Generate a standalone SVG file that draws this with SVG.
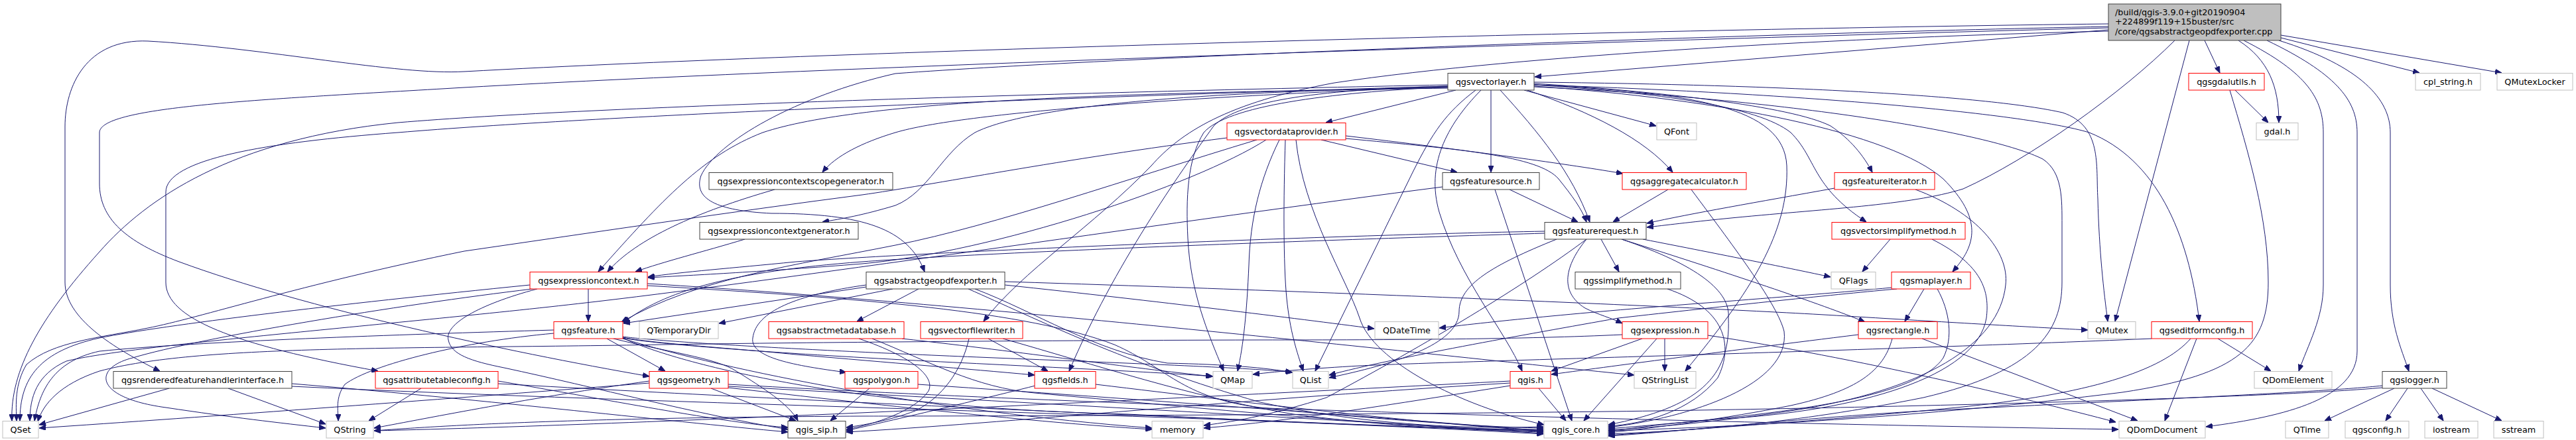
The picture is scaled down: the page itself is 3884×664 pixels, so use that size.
<svg xmlns="http://www.w3.org/2000/svg" width="3884" height="664" viewBox="0 0 3884 664">
<defs>
<marker id="ah" markerWidth="10" markerHeight="8" refX="10" refY="4" orient="auto" markerUnits="userSpaceOnUse"><path d="M0,0 L10,4 L0,8 z" fill="#191970" stroke="#191970" stroke-width="1"/></marker>
<style>
.e path{fill:none;stroke:#191970;stroke-width:1;marker-end:url(#ah)}
.nb{fill:#ffffff;stroke:#404040;stroke-width:1}
.nr{fill:#ffffff;stroke:#ff0000;stroke-width:1}
.ng{fill:#ffffff;stroke:#bfbfbf;stroke-width:1}
.nt{fill:#bfbfbf;stroke:#404040;stroke-width:1}
text{font-family:"DejaVu Sans","Liberation Sans",sans-serif;font-size:12.8px;fill:#000000;text-anchor:middle}
text.l{text-anchor:start}
</style>
</defs>
<rect x="0" y="0" width="3884" height="664" fill="#ffffff"/>
<g id="connectors" class="e">
<path d="M3179,45 L2314,116"/>
<path d="M3179,36 C2500,44 1300,75 700,108 C600,114 400,72 223,62 C130,58 98,130 98,191 L98,426 C98,480 170,525 241,560"/>
<path d="M3179,40 C2600,52 1700,85 1350,111 C1200,145 1080,215 1057,265 C1045,300 1080,318 1163,322 C1300,322 1370,345 1394,410"/>
<path d="M3179,42 C2500,60 1300,98 700,132 C400,150 150,160 150,200 L150,277 C150,330 190,365 270,395 C460,465 760,530 979,568"/>
<path d="M3179,47 C2800,56 2300,82 2012,125 C1850,155 1780,200 1736,250 C1650,340 1540,410 1483,485"/>
<path d="M3279,61 C3200,140 3060,240 2960,285 C2880,310 2750,315 2600,330 C2550,335 2510,340 2483,343"/>
<path d="M3301,61 L3189,485"/>
<path d="M3324,61 L3347,110"/>
<path d="M3375,61 C3420,90 3436,130 3436,185"/>
<path d="M3383,61 C3480,110 3503,150 3503,200 L3503,430 C3503,480 3480,520 3466,560"/>
<path d="M3418,61 C3520,110 3554,150 3554,200 L3554,530 C3554,600 3450,628 3326,644"/>
<path d="M3436,61 C3560,100 3604,150 3604,200 L3604,430 C3604,490 3620,525 3632,560"/>
<path d="M3439,57 L3648,110"/>
<path d="M3439,53 L3772,110"/>
<path d="M3370,136 L3420,185"/>
<path d="M3362,136 C3390,230 3420,330 3420,426 C3420,520 3380,565 3200,592 C2900,630 2600,645 2425,650"/>
<path d="M3610,586 L3505,635"/>
<path d="M3630,586 L3597,635"/>
<path d="M3650,586 L3684,635"/>
<path d="M3667,586 L3772,635"/>
<path d="M3592,582 C3500,592 3200,605 2900,620 C2700,632 2550,650 2425,658"/>
<path d="M3592,585 C3450,598 3000,612 2500,620 C2000,627 1400,628 1300,628 C900,630 700,640 564,650"/>
<path d="M2195,136 L1999,185"/>
<path d="M2248,136 L2248,260"/>
<path d="M2262,136 C2320,200 2370,260 2397,335"/>
<path d="M2298,136 L2497,190"/>
<path d="M2303,136 C2400,170 2480,210 2522,260"/>
<path d="M2225,136 C2180,170 2160,200 2130,260 L1983,560"/>
<path d="M2233,136 C2180,190 2150,250 2170,320 C2200,420 2270,500 2295,560"/>
<path d="M2313,128 C2500,140 2650,160 2700,200 C2740,240 2730,280 2814,335"/>
<path d="M2313,126 C2500,138 2700,160 2760,190 C2790,210 2810,235 2823,260"/>
<path d="M2313,130 C2600,150 2850,200 2930,270 C2990,330 2980,370 2944,410"/>
<path d="M2313,124 C2700,128 3000,145 3110,170 C3170,190 3160,250 3163,300 C3165,380 3172,440 3178,485"/>
<path d="M2313,128 C2700,140 3050,170 3150,200 C3250,240 3300,350 3316,485"/>
<path d="M2313,131 C2700,150 3000,200 3080,240 C3110,260 3109,300 3109,340 L3109,426 C3109,500 3070,560 2900,600 C2700,640 2550,650 2425,655"/>
<path d="M2183,128 C1600,140 900,160 600,185 C350,210 220,300 150,380 C60,480 15,560 18,635"/>
<path d="M2183,130 C1500,150 900,175 600,200 C400,215 250,240 250,290 L250,426 C250,480 350,520 570,560"/>
<path d="M2183,131 C1800,145 1450,170 1350,200 C1300,215 1260,235 1240,260"/>
<path d="M2183,132 C1800,138 1550,160 1470,200 C1420,230 1400,290 1350,310 C1300,325 1270,330 1240,335"/>
<path d="M2183,133 C1700,140 1300,150 1150,200 C1060,235 1000,300 902,410"/>
<path d="M2183,130 C2000,135 1870,150 1830,190 C1780,260 1680,400 1612,560"/>
<path d="M2183,131 C2000,140 1850,160 1815,200 C1790,240 1788,300 1791,360 C1795,440 1820,500 1845,560"/>
<path d="M2313,128 C2550,140 2690,160 2694,250 C2698,350 2640,440 2541,560"/>
<path d="M1992,211 L2197,260"/>
<path d="M2029,205 C2200,225 2380,250 2447,262"/>
<path d="M2029,209 C2200,225 2320,235 2350,270 C2370,295 2385,315 2392,335"/>
<path d="M1929,211 C1900,270 1885,330 1883,400 C1880,470 1875,520 1866,560"/>
<path d="M1938,211 C1935,300 1935,400 1940,450 C1945,500 1955,530 1965,560"/>
<path d="M1850,208 C1600,240 1400,280 1300,294 C1100,320 900,350 700,379 C450,430 300,480 223,495 C150,510 80,515 40,550 C22,580 24,610 25,635"/>
<path d="M1954,211 C1965,320 2030,420 2050,480 C2070,545 2200,612 2328,641"/>
<path d="M1909,211 C1800,280 1500,380 1300,398 C1150,410 1050,415 977,419"/>
<path d="M1895,211 C1700,270 1500,340 1350,370 C1200,400 1050,420 937,486"/>
<path d="M2276,286 L2379,335"/>
<path d="M2254,286 L2370,635"/>
<path d="M2175,282 C1800,330 1200,420 900,455 C600,490 200,520 100,545 C55,565 45,600 45,635"/>
<path d="M2515,286 L2432,335"/>
<path d="M2550,286 C2620,380 2680,460 2690,500 C2700,580 2550,630 2425,645"/>
<path d="M2766,284 C2650,305 2550,322 2483,337"/>
<path d="M2888,286 C2980,320 3030,380 3024,430 C3015,520 2900,590 2700,620 C2600,635 2500,645 2425,649"/>
<path d="M2414,361 L2441,410"/>
<path d="M2392,361 C2360,400 2350,440 2390,465 C2410,475 2430,480 2446,488"/>
<path d="M2445,361 C2600,410 2750,460 2812,486"/>
<path d="M2477,361 C2600,385 2700,405 2760,418"/>
<path d="M2347,361 C2250,400 2200,430 2200,470 C2200,520 2100,550 2004,570"/>
<path d="M2392,361 C2300,430 2150,520 2000,600 C1920,625 1870,635 1815,642"/>
<path d="M2445,361 C2560,400 2610,440 2606,480 C2610,570 2560,615 2425,641"/>
<path d="M2329,349 C2000,355 1400,380 1200,395 C1100,405 1030,410 977,418"/>
<path d="M2329,352 C2000,362 1500,380 1300,395 C1100,410 1000,440 940,487"/>
<path d="M1168,286 C1050,320 960,360 916,410"/>
<path d="M1123,361 C1060,380 1000,395 958,410"/>
<path d="M2850,361 L2808,410"/>
<path d="M2913,361 C2990,400 3000,440 2995,480 C2980,570 2800,620 2600,632 C2520,638 2470,645 2425,651"/>
<path d="M2901,436 L2872,485"/>
<path d="M2921,436 C2940,470 2945,510 2930,540 C2890,600 2700,625 2425,647"/>
<path d="M2860,436 C2780,443 2600,462 2440,480 C2300,505 2100,540 2004,566"/>
<path d="M2852,434 C2780,441 2700,447 2600,455 C2400,470 2250,485 2170,495"/>
<path d="M2510,511 L2510,560"/>
<path d="M2476,511 L2339,560"/>
<path d="M2498,511 L2388,635"/>
<path d="M2575,506 C2800,540 3050,600 3190,637"/>
<path d="M2446,505 C2300,512 2100,513 1900,513 C1500,514 1200,517 1000,520 C600,527 300,520 150,560 C90,580 65,610 57,636"/>
<path d="M2514,436 C2600,465 2615,520 2590,570 C2550,620 2480,640 2425,643"/>
<path d="M2898,511 L3223,635"/>
<path d="M2853,511 C2840,560 2800,590 2700,612 C2600,632 2500,645 2425,653"/>
<path d="M2802,505 C2600,530 2450,550 2339,565"/>
<path d="M3344,511 L3424,560"/>
<path d="M3312,511 L3264,635"/>
<path d="M3303,511 C3260,560 3150,595 2950,615 C2750,635 2550,648 2425,657"/>
<path d="M3244,511 C2800,530 2200,545 2050,552 C1980,556 1930,560 1889,565"/>
<path d="M1385,436 L1292,485"/>
<path d="M1346,436 L1084,488"/>
<path d="M1306,433 L940,488"/>
<path d="M1306,430 C1200,445 1140,470 1135,510 C1130,540 1200,552 1276,562"/>
<path d="M1515,425 C2000,440 2600,465 2800,478 C2950,487 3050,493 3148,498"/>
<path d="M1515,430 C1750,455 1950,480 2072,496"/>
<path d="M1470,436 C1560,470 1650,530 1760,548 C1850,550 1910,555 1948,562"/>
<path d="M1460,436 C1560,480 1700,550 1900,607 C2050,640 2200,648 2327,644"/>
<path d="M1360,511 C1550,532 1700,555 1828,568"/>
<path d="M1295,511 C1380,540 1410,570 1400,590 C1380,620 1320,640 1276,648"/>
<path d="M1315,511 C1400,545 1470,585 1560,593 C1800,615 2100,645 2327,650"/>
<path d="M1490,511 L1580,560"/>
<path d="M1461,511 C1450,560 1420,600 1380,620 C1340,635 1300,642 1276,645"/>
<path d="M1512,511 C1650,550 1800,600 1950,625 C2100,645 2250,650 2327,652"/>
<path d="M887,436 L887,485"/>
<path d="M799,430 C500,460 250,490 150,510 C60,530 30,570 30,635"/>
<path d="M803,436 C600,460 300,510 200,540 C140,555 140,600 250,615 C350,630 420,638 491,646"/>
<path d="M810,436 C720,460 670,490 676,513 C680,535 710,545 760,555 C900,585 1050,625 1188,648"/>
<path d="M976,431 C1300,450 1550,470 1680,520 C1760,555 1780,600 1900,615 C2100,635 2250,645 2327,646"/>
<path d="M976,428 C1500,460 2200,540 2464,566"/>
<path d="M915,511 L1003,560"/>
<path d="M835,498 C600,505 300,515 150,530 C80,545 60,590 52,635"/>
<path d="M835,503 C700,515 560,550 520,580 C505,600 510,620 510,635"/>
<path d="M925,511 C1000,530 1080,540 1110,560 C1150,585 1190,610 1203,635"/>
<path d="M939,509 C980,518 1100,525 1200,535 C1350,548 1450,556 1560,566"/>
<path d="M939,510 C990,520 1200,535 1400,545 C1600,555 1750,562 1829,568"/>
<path d="M939,508 C990,515 1200,528 1500,540 C1750,550 1900,556 1949,562"/>
<path d="M939,510 C1000,540 1250,615 1700,625 C2000,640 2200,648 2327,648"/>
<path d="M939,511 C1100,560 1400,620 1737,646"/>
<path d="M1072,586 L1200,635"/>
<path d="M1098,583 C1500,605 2000,632 2327,654"/>
<path d="M979,578 C700,600 300,630 59,646"/>
<path d="M979,575 C800,600 650,630 564,646"/>
<path d="M1098,580 C1800,620 2700,640 3194,648"/>
<path d="M1098,585 C1400,620 1600,640 1737,648"/>
<path d="M1311,586 L1252,635"/>
<path d="M1384,580 C1800,608 2100,632 2327,650"/>
<path d="M1561,582 C1450,610 1320,640 1276,650"/>
<path d="M1652,580 C1900,610 2150,640 2327,650"/>
<path d="M2320,586 L2361,635"/>
<path d="M2277,582 C2100,610 1950,635 1815,646"/>
<path d="M2277,578 C1900,600 1500,640 1276,652"/>
<path d="M2277,575 C1800,600 1000,640 564,650"/>
<path d="M635,586 L556,635"/>
<path d="M751,575 C900,600 1100,640 1188,645"/>
<path d="M751,579 C1300,610 2000,640 2327,651"/>
<path d="M255,586 L59,641"/>
<path d="M344,586 L491,640"/>
<path d="M440,579 C700,600 1000,635 1188,652"/>
<path d="M440,583 C1000,610 1800,625 2327,655"/>
</g>
<g id="node-top"><rect class="nt" x="3179" y="6" width="260" height="55"/><text class="l" x="3189" y="22.5">/build/qgis-3.9.0+git20190904</text><text class="l" x="3189" y="37">+224899f119+15buster/src</text><text class="l" x="3189" y="51.5">/core/qgsabstractgeopdfexporter.cpp</text></g>
<g id="node-qgsvectorlayer"><rect class="nb" x="2183" y="110.5" width="130" height="25.5"/><text x="2248" y="127.5">qgsvectorlayer.h</text></g>
<g id="node-qgsgdalutils"><rect class="nr" x="3300" y="110.5" width="114" height="25.5"/><text x="3357" y="127.5">qgsgdalutils.h</text></g>
<g id="node-cpl_string"><rect class="ng" x="3642" y="110.5" width="98" height="25.5"/><text x="3691" y="127.5">cpl_string.h</text></g>
<g id="node-QMutexLocker"><rect class="ng" x="3765" y="110.5" width="114" height="25.5"/><text x="3822" y="127.5">QMutexLocker</text></g>
<g id="node-qgsvectordataprovider"><rect class="nr" x="1850" y="185.5" width="179" height="25.5"/><text x="1939.5" y="202.5">qgsvectordataprovider.h</text></g>
<g id="node-QFont"><rect class="ng" x="2498" y="185.5" width="60" height="25.5"/><text x="2528" y="202.5">QFont</text></g>
<g id="node-gdal"><rect class="ng" x="3402" y="185.5" width="63" height="25.5"/><text x="3433.5" y="202.5">gdal.h</text></g>
<g id="node-qgsexpressioncontextscopegenerator"><rect class="nb" x="1069" y="260.5" width="277" height="25.5"/><text x="1207.5" y="277.5">qgsexpressioncontextscopegenerator.h</text></g>
<g id="node-qgsfeaturesource"><rect class="nb" x="2175" y="260.5" width="146" height="25.5"/><text x="2248" y="277.5">qgsfeaturesource.h</text></g>
<g id="node-qgsaggregatecalculator"><rect class="nr" x="2446" y="260.5" width="187" height="25.5"/><text x="2539.5" y="277.5">qgsaggregatecalculator.h</text></g>
<g id="node-qgsfeatureiterator"><rect class="nr" x="2766" y="260.5" width="151" height="25.5"/><text x="2841.5" y="277.5">qgsfeatureiterator.h</text></g>
<g id="node-qgsexpressioncontextgenerator"><rect class="nb" x="1055" y="335.5" width="239" height="25.5"/><text x="1174.5" y="352.5">qgsexpressioncontextgenerator.h</text></g>
<g id="node-qgsfeaturerequest"><rect class="nb" x="2329" y="335.5" width="153" height="25.5"/><text x="2405.5" y="352.5">qgsfeaturerequest.h</text></g>
<g id="node-qgsvectorsimplifymethod"><rect class="nr" x="2762" y="335.5" width="201" height="25.5"/><text x="2862.5" y="352.5">qgsvectorsimplifymethod.h</text></g>
<g id="node-qgsexpressioncontext"><rect class="nr" x="799" y="410.5" width="177" height="25.5"/><text x="887.5" y="427.5">qgsexpressioncontext.h</text></g>
<g id="node-qgsabstractgeopdfexporter"><rect class="nb" x="1306" y="410.5" width="209" height="25.5"/><text x="1410.5" y="427.5">qgsabstractgeopdfexporter.h</text></g>
<g id="node-qgssimplifymethod"><rect class="nb" x="2375" y="410.5" width="159" height="25.5"/><text x="2454.5" y="427.5">qgssimplifymethod.h</text></g>
<g id="node-QFlags"><rect class="ng" x="2761" y="410.5" width="67" height="25.5"/><text x="2794.5" y="427.5">QFlags</text></g>
<g id="node-qgsmaplayer"><rect class="nr" x="2852" y="410.5" width="119" height="25.5"/><text x="2911.5" y="427.5">qgsmaplayer.h</text></g>
<g id="node-qgsfeature"><rect class="nr" x="835" y="485.5" width="104" height="25.5"/><text x="887" y="502.5">qgsfeature.h</text></g>
<g id="node-QTemporaryDir"><rect class="ng" x="964" y="485.5" width="119" height="25.5"/><text x="1023.5" y="502.5">QTemporaryDir</text></g>
<g id="node-qgsabstractmetadatabase"><rect class="nr" x="1159" y="485.5" width="204" height="25.5"/><text x="1261" y="502.5">qgsabstractmetadatabase.h</text></g>
<g id="node-qgsvectorfilewriter"><rect class="nr" x="1388" y="485.5" width="154" height="25.5"/><text x="1465" y="502.5">qgsvectorfilewriter.h</text></g>
<g id="node-QDateTime"><rect class="ng" x="2073" y="485.5" width="96" height="25.5"/><text x="2121" y="502.5">QDateTime</text></g>
<g id="node-qgsexpression"><rect class="nr" x="2446" y="485.5" width="129" height="25.5"/><text x="2510.5" y="502.5">qgsexpression.h</text></g>
<g id="node-qgsrectangle"><rect class="nr" x="2802" y="485.5" width="119" height="25.5"/><text x="2861.5" y="502.5">qgsrectangle.h</text></g>
<g id="node-QMutex"><rect class="ng" x="3148" y="485.5" width="72" height="25.5"/><text x="3184" y="502.5">QMutex</text></g>
<g id="node-qgseditformconfig"><rect class="nr" x="3244" y="485.5" width="152" height="25.5"/><text x="3320" y="502.5">qgseditformconfig.h</text></g>
<g id="node-qgsrenderedfeaturehandlerinterface"><rect class="nb" x="171" y="560.5" width="269" height="25.5"/><text x="305.5" y="577.5">qgsrenderedfeaturehandlerinterface.h</text></g>
<g id="node-qgsattributetableconfig"><rect class="nr" x="566" y="560.5" width="185" height="25.5"/><text x="658.5" y="577.5">qgsattributetableconfig.h</text></g>
<g id="node-qgsgeometry"><rect class="nr" x="979" y="560.5" width="119" height="25.5"/><text x="1038.5" y="577.5">qgsgeometry.h</text></g>
<g id="node-qgspolygon"><rect class="nr" x="1274" y="560.5" width="110" height="25.5"/><text x="1329" y="577.5">qgspolygon.h</text></g>
<g id="node-qgsfields"><rect class="nr" x="1560" y="560.5" width="92" height="25.5"/><text x="1606" y="577.5">qgsfields.h</text></g>
<g id="node-QMap"><rect class="ng" x="1829" y="560.5" width="59" height="25.5"/><text x="1858.5" y="577.5">QMap</text></g>
<g id="node-QList"><rect class="ng" x="1949" y="560.5" width="54" height="25.5"/><text x="1976" y="577.5">QList</text></g>
<g id="node-qgis"><rect class="nr" x="2277" y="560.5" width="61" height="25.5"/><text x="2307.5" y="577.5">qgis.h</text></g>
<g id="node-QStringList"><rect class="ng" x="2464" y="560.5" width="93" height="25.5"/><text x="2510.5" y="577.5">QStringList</text></g>
<g id="node-QDomElement"><rect class="ng" x="3399" y="560.5" width="117" height="25.5"/><text x="3457.5" y="577.5">QDomElement</text></g>
<g id="node-qgslogger"><rect class="nb" x="3592" y="560.5" width="97" height="25.5"/><text x="3640.5" y="577.5">qgslogger.h</text></g>
<g id="node-QSet"><rect class="ng" x="4" y="635.5" width="54" height="25.5"/><text x="31" y="652.5">QSet</text></g>
<g id="node-QString"><rect class="ng" x="492" y="635.5" width="71" height="25.5"/><text x="527.5" y="652.5">QString</text></g>
<g id="node-qgis_sip"><rect class="nb" x="1188" y="635.5" width="87" height="25.5"/><text x="1231.5" y="652.5">qgis_sip.h</text></g>
<g id="node-memory"><rect class="ng" x="1737" y="635.5" width="77" height="25.5"/><text x="1775.5" y="652.5">memory</text></g>
<g id="node-qgis_core"><rect class="ng" x="2328" y="635.5" width="96" height="25.5"/><text x="2376" y="652.5">qgis_core.h</text></g>
<g id="node-QDomDocument"><rect class="ng" x="3195" y="635.5" width="130" height="25.5"/><text x="3260" y="652.5">QDomDocument</text></g>
<g id="node-QTime"><rect class="ng" x="3446" y="635.5" width="65" height="25.5"/><text x="3478.5" y="652.5">QTime</text></g>
<g id="node-qgsconfig"><rect class="ng" x="3536" y="635.5" width="96" height="25.5"/><text x="3584" y="652.5">qgsconfig.h</text></g>
<g id="node-iostream"><rect class="ng" x="3656" y="635.5" width="80" height="25.5"/><text x="3696" y="652.5">iostream</text></g>
<g id="node-sstream"><rect class="ng" x="3760" y="635.5" width="75" height="25.5"/><text x="3797.5" y="652.5">sstream</text></g>
</svg>
